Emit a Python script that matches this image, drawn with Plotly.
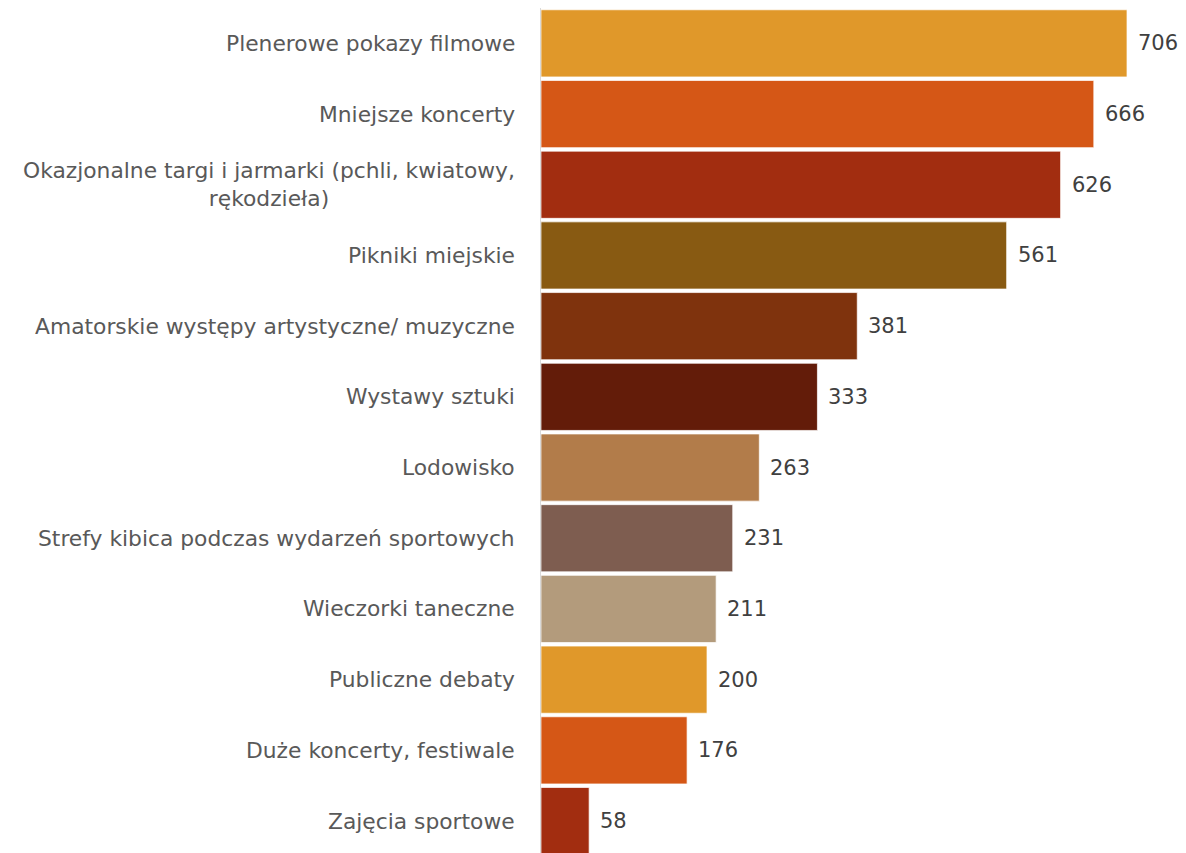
import plotly.graph_objects as go

categories = [
    "Plenerowe pokazy filmowe",
    "Mniejsze koncerty",
    "Okazjonalne targi i jarmarki (pchli, kwiatowy,<br>rękodzieła)",
    "Pikniki miejskie",
    "Amatorskie występy artystyczne/ muzyczne",
    "Wystawy sztuki",
    "Lodowisko",
    "Strefy kibica podczas wydarzeń sportowych",
    "Wieczorki taneczne",
    "Publiczne debaty",
    "Duże koncerty, festiwale",
    "Zajęcia sportowe",
]
values = [706, 666, 626, 561, 381, 333, 263, 231, 211, 200, 176, 58]
colors = ["#E0982A", "#D55716", "#A22D10", "#885A12", "#7F330D", "#631C09",
          "#B27C4A", "#7E5D50", "#B39B7C", "#E0982A", "#D55716", "#A22D10"]

FONT = "DejaVu Sans"

fig = go.Figure(go.Bar(
    x=values, y=categories, orientation="h",
    marker=dict(color=colors, line=dict(color="rgba(255,255,255,0.7)", width=1)),
    hoverinfo="skip",
))

annotations = []
for c, v in zip(categories, values):
    annotations.append(dict(x=v, y=c, xref="x", yref="y", text=str(v), showarrow=False,
                            xanchor="left", xshift=9, font=dict(family=FONT, size=21, color="#404040")))
    annotations.append(dict(x=0, y=c, xref="paper", yref="y", text=c, showarrow=False,
                            xanchor="right", xshift=-24, align="center",
                            font=dict(family=FONT, size=21.8, color="#595959")))

fig.update_layout(
    width=1186, height=853,
    margin=dict(l=533, r=0, t=0, b=0),
    plot_bgcolor="white", paper_bgcolor="white",
    bargap=0.05,
    showlegend=False,
    annotations=annotations,
    xaxis=dict(range=[0, 786.7], showgrid=False, zeroline=False, showticklabels=False, showline=False),
    yaxis=dict(autorange=False, range=[11.565, -0.5], showgrid=False, zeroline=False,
               showticklabels=False, showline=True, linecolor="#D9D9D9", linewidth=1, ticks=""),
)

fig.write_html("out.html")
